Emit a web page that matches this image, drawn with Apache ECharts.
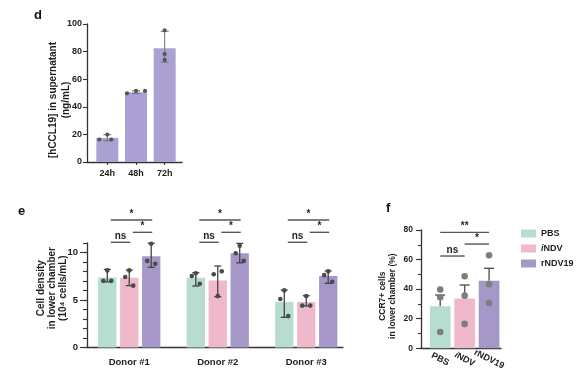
<!DOCTYPE html>
<html><head><meta charset="utf-8">
<script src="https://cdn.jsdelivr.net/npm/echarts@6/dist/echarts.min.js"></script>
<style>html,body{margin:0;padding:0;background:#fff}#c{width:580px;height:383px}</style>
</head><body><div id="c"></div>
<script>
// ---------- DATA ----------
// Panel d
const dCategories = ['24h', '48h', '72h'];
const dMeans = [17.5, 50.5, 82.5];
const dErrLow = [15.4, 49.6, 72.3];
const dErrHigh = [19.8, 51.6, 94.7];
const dPoints = [[16.3, 19.9, 16.3], [49.8, 51.5, 51.5], [95.4, 78.2, 74.0]];
const dYMax = 100, dYInterval = 20;

// Panel e
const eCategories = ['Donor #1', 'Donor #2', 'Donor #3'];
const groupNames = ['PBS', 'iNDV', 'rNDV19'];
const eMeansPBS = [7.35, 7.33, 4.8];
const eMeansINDV = [7.33, 7.05, 4.78];
const eMeansRNDV = [9.6, 9.9, 7.52];
const eLowPBS = [6.9, 6.46, 3.17];
const eHighPBS = [8.2, 7.86, 6.04];
const eLowINDV = [6.5, 5.34, 4.36];
const eHighINDV = [8.13, 8.56, 5.44];
const eLowRNDV = [8.42, 8.9, 6.74];
const eHighRNDV = [10.94, 10.94, 8.04];
const ePointsPBS = [[8.1, 7.0, 7.0], [7.8, 7.5, 6.7], [6.0, 5.1, 3.3]];
const ePointsINDV = [[8.1, 7.4, 6.5], [5.4, 7.7, 8.0], [5.4, 4.4, 4.4]];
const ePointsRNDV = [[10.9, 9.1, 8.8], [10.7, 9.9, 9.1], [8.0, 7.6, 6.9]];
const eYMax = 11, eYInterval = 5;
const eComparisons = [[0, 2, '*'], [1, 2, '*'], [0, 1, 'ns']];

// Panel f
const fCategories = ['PBS', 'iNDV', 'rNDV19'];
const fMeans = [28.4, 33.6, 45.6];
const fSemHigh = [36.0, 42.8, 54.1];
const fPoints = [[39.7, 34.5, 11.0], [48.7, 35.6, 16.5], [62.9, 43.3, 30.6]];
const fYMax = 80, fYInterval = 20;
const fComparisons = [[0, 2, '**'], [1, 2, '*'], [0, 1, 'ns']];

// ---------- LAYOUT / STYLE ----------
const FONT = 'Liberation Sans, Arial, Helvetica, sans-serif';
const TXT = '#1e1e1e';
const AX = '#333';
const colors = ['#b7dcd1', '#f0b8cb', '#a598c9'];
const dColor = '#aba2d3';
const eBarW = 18.3, eGap = 3.66;
const eOffsets = [-(eBarW + eGap), 0, eBarW + eGap];
const eBracketLevels = [13.4, 12.1, 11.05];
const fBracketLevels = [78.4, 70.5, 62.4];
const dJitter = [[-8, 0, 4], [-9, 0, 9], [0, 0, 0]];
const eJitter = [0, -4, 4];

const chart = echarts.init(document.getElementById('c'), null, {renderer: 'canvas'});

function lineEl(x1, y1, x2, y2, color, w) {
  return {type: 'line', shape: {x1, y1, x2, y2}, style: {stroke: color, lineWidth: w}};
}
function errRender(getOffset, capW, color, w, upOnly) {
  return function (params, api) {
    const c = api.value(0);
    const lo = api.coord([c, api.value(1)]);
    const hi = api.coord([c, api.value(2)]);
    const x = lo[0] + getOffset(params);
    const ch = [lineEl(x, lo[1], x, hi[1], color, w), lineEl(x - capW / 2, hi[1], x + capW / 2, hi[1], color, w)];
    if (!upOnly) ch.push(lineEl(x - capW / 2, lo[1], x + capW / 2, lo[1], color, w));
    return {type: 'group', children: ch};
  };
}
function dotRender(getOffset, r, color) {
  return function (params, api) {
    const p = api.coord([api.value(0), api.value(1)]);
    return {type: 'circle', shape: {cx: p[0] + getOffset(params, api), cy: p[1], r}, style: {fill: color}};
  };
}
function bracketRender(list, getX, color) {
  return function (params, api) {
    const b = list[params.dataIndex];
    const p = api.coord([b.group, b.level]);
    const x1 = p[0] + getX(b.from, true), x2 = p[0] + getX(b.to, false);
    return {type: 'group', children: [
      lineEl(x1, p[1], x2, p[1], color, 1.4),
      {type: 'text', x: (x1 + x2) / 2, y: p[1] - 1, style: {text: b.label, align: 'center', verticalAlign: 'bottom', fontSize: 10, fontWeight: 'bold', fontFamily: FONT, fill: TXT}}
    ]};
  };
}

const series = [];
// ---- d ----
series.push({type: 'bar', xAxisIndex: 1, yAxisIndex: 1, data: dMeans, barWidth: 22, itemStyle: {color: dColor}, z: 2});
series.push({type: 'custom', xAxisIndex: 1, yAxisIndex: 1, z: 3,
  data: dCategories.map((c, i) => [i, dErrLow[i], dErrHigh[i]]),
  renderItem: errRender(() => 0, 8, '#7a7a7a', 1.1, false)});
const dDots = [];
dPoints.forEach((arr, i) => arr.forEach((v, j) => dDots.push([i, v, j])));
series.push({type: 'custom', xAxisIndex: 1, yAxisIndex: 1, z: 4, data: dDots,
  renderItem: dotRender((p, api) => dJitter[api.value(0)][api.value(2)], 2.1, '#555')});

// ---- e ----
const eMeans = [eMeansPBS, eMeansINDV, eMeansRNDV];
const eLows = [eLowPBS, eLowINDV, eLowRNDV];
const eHighs = [eHighPBS, eHighINDV, eHighRNDV];
const ePts = [ePointsPBS, ePointsINDV, ePointsRNDV];
for (let s = 0; s < 3; s++) {
  series.push({type: 'bar', name: groupNames[s], xAxisIndex: 3, yAxisIndex: 3, data: eMeans[s],
    barWidth: eBarW, barGap: (eGap / eBarW * 100) + '%', itemStyle: {color: colors[s]}, z: 2});
}
for (let s = 0; s < 3; s++) {
  series.push({type: 'custom', xAxisIndex: 3, yAxisIndex: 3, z: 3,
    data: eCategories.map((c, i) => [i, eLows[s][i], eHighs[s][i]]),
    renderItem: errRender(() => eOffsets[s], 7, '#444', 1.3, false)});
  const pts = [];
  ePts[s].forEach((arr, i) => arr.forEach((v, j) => pts.push([i, v, j])));
  series.push({type: 'custom', xAxisIndex: 3, yAxisIndex: 3, z: 4, data: pts,
    renderItem: dotRender((p, api) => eOffsets[s] + eJitter[api.value(2)], 2.3, '#4a4a4a')});
}
const eBr = [];
eCategories.forEach((c, g) => eComparisons.forEach((cmp, k) => eBr.push({group: g, from: cmp[0], to: cmp[1], label: cmp[2], level: eBracketLevels[k]})));
series.push({type: 'custom', xAxisIndex: 3, yAxisIndex: 3, z: 5, clip: false,
  data: eBr.map(b => [b.group, b.level]),
  renderItem: bracketRender(eBr, (idx, left) => eOffsets[idx] + (left ? 3.5 : 1), '#555')});

// ---- f ----
series.push({type: 'bar', name: 'fbars', xAxisIndex: 5, yAxisIndex: 5, barWidth: 20.7, z: 2,
  data: fMeans.map((v, i) => ({value: v, itemStyle: {color: colors[i]}}))});
series.push({type: 'custom', xAxisIndex: 5, yAxisIndex: 5, z: 3,
  data: fCategories.map((c, i) => [i, fMeans[i], fSemHigh[i]]),
  renderItem: errRender(() => 0, 10, '#555', 1.4, true)});
const fDots = [];
fPoints.forEach((arr, i) => arr.forEach((v, j) => fDots.push([i, v, j])));
series.push({type: 'custom', xAxisIndex: 5, yAxisIndex: 5, z: 4, data: fDots,
  renderItem: dotRender(() => 0, 3.3, '#7d7d7d')});
const fBr = fComparisons.map((cmp, k) => ({group: 0, from: cmp[0], to: cmp[1], label: cmp[2], level: fBracketLevels[k]}));
series.push({type: 'custom', xAxisIndex: 5, yAxisIndex: 5, z: 5, clip: false,
  data: fBr.map(b => [0, b.level]),
  renderItem: bracketRender(fBr, (idx) => idx * 24.43, '#555')});

const lblStyle = (size) => ({fontSize: size, fontWeight: 'bold', fontFamily: FONT, color: TXT});
const frameX = (grid, off) => ({type: 'value', gridIndex: grid, min: 0, max: 1, offset: off,
  axisLine: {show: true, lineStyle: {color: AX, width: 1.3}}, axisTick: {show: false}, axisLabel: {show: false}, splitLine: {show: false}});
const richI = {it: {fontStyle: 'italic', fontSize: 9, fontWeight: 'bold', fontFamily: FONT, color: TXT}, n: {fontSize: 9, fontWeight: 'bold', fontFamily: FONT, color: TXT}};
const fmtI = v => v.charAt(0) === 'i' ? '{it|i}{n|' + v.slice(1) + '}' : '{n|' + v + '}';
const titleStyle = {fontSize: 13, fontWeight: 'bold', fontFamily: FONT, color: '#111'};

const option = {
  animation: false,
  backgroundColor: '#fff',
  title: [
    {text: 'd', left: 34, top: 9, padding: 0, textStyle: titleStyle},
    {text: 'e', left: 18, top: 205, padding: 0, textStyle: titleStyle},
    {text: 'f', left: 386, top: 202, padding: 0, textStyle: titleStyle}
  ],
  legend: {
    data: groupNames, orient: 'vertical', left: 521, top: 229, padding: 0, itemWidth: 15, itemHeight: 8, itemGap: 6,
    icon: 'rect', selectedMode: false, formatter: fmtI,
    textStyle: {fontSize: 9, fontWeight: 'bold', fontFamily: FONT, color: TXT, rich: richI}
  },
  grid: [
    {left: 87, top: 24, width: 95, height: 138},
    {left: 93, top: 24, width: 86, height: 138},
    {left: 87, top: 242.8, width: 256, height: 104.7},
    {left: 85, top: 242.8, width: 265.5, height: 104.7},
    {left: 421, top: 230, width: 80, height: 118.3},
    {left: 428, top: 230, width: 73.3, height: 118.3}
  ],
  xAxis: [
    frameX(0, 0),
    {type: 'category', gridIndex: 1, data: dCategories, axisLine: {show: false},
      axisTick: {show: true, alignWithLabel: true, length: 3, lineStyle: {color: AX, width: 1.1}},
      axisLabel: Object.assign({margin: 7, interval: 0}, lblStyle(9))},
    frameX(2, 2),
    {type: 'category', gridIndex: 3, data: eCategories, axisLine: {show: false}, axisTick: {show: false},
      axisLabel: Object.assign({margin: 10, interval: 0}, lblStyle(9.5))},
    frameX(4, 1),
    {type: 'category', gridIndex: 5, data: fCategories, axisLine: {show: false},
      axisTick: {show: false},
      axisLabel: {margin: 11, rotate: -27, align: 'center', interval: 0, hideOverlap: false, formatter: fmtI, rich: richI, fontSize: 9, fontWeight: 'bold', fontFamily: FONT, color: TXT}}
  ],
  yAxis: [
    {type: 'value', gridIndex: 0, min: 0, max: dYMax, show: false},
    {type: 'value', gridIndex: 1, min: 0, max: dYMax, interval: dYInterval, offset: 6,
      axisLine: {show: true, lineStyle: {color: AX, width: 1.3}},
      axisTick: {show: true, length: 4, lineStyle: {color: AX, width: 1.1}},
      axisLabel: Object.assign({margin: 5}, lblStyle(9)), splitLine: {show: false},
      name: '[hCCL19] in supernatant\n(ng/mL)', nameLocation: 'middle', nameGap: 14, nameMoveOverlap: false,
      nameTextStyle: {fontSize: 10, fontWeight: 'bold', fontFamily: FONT, color: TXT, lineHeight: 13, padding: [0, 14, 0, 0]}},
    {type: 'value', gridIndex: 2, min: 0, max: eYMax, interval: eYInterval,
      axisLine: {show: true, lineStyle: {color: AX, width: 1.3}},
      axisTick: {show: true, length: 7, lineStyle: {color: AX, width: 1.1}},
      axisLabel: Object.assign({margin: 9, showMaxLabel: false}, lblStyle(9.5)), splitLine: {show: false},
      name: 'Cell density\nin lower chamber\n(10⁴ cells/mL)', nameLocation: 'middle', nameGap: 18, nameMoveOverlap: false,
      nameTextStyle: {fontSize: 10, fontWeight: 'bold', fontFamily: FONT, color: TXT, lineHeight: 11, padding: [0, 0, 0, 14]}},
    {type: 'value', gridIndex: 3, min: 0, max: eYMax, interval: 1, offset: -2,
      axisLine: {show: false},
      axisTick: {show: true, length: 4, lineStyle: {color: AX, width: 1.1}},
      axisLabel: {show: false}, splitLine: {show: false}},
    {type: 'value', gridIndex: 4, min: 0, max: fYMax, interval: 10,
      axisLine: {show: true, lineStyle: {color: AX, width: 1.3}},
      axisTick: {show: true, length: 3, lineStyle: {color: AX, width: 1.1}},
      axisLabel: {show: false}, splitLine: {show: false}},
    {type: 'value', gridIndex: 5, min: 0, max: fYMax, interval: fYInterval, offset: 7,
      axisLine: {show: false},
      axisTick: {show: true, length: 5, lineStyle: {color: AX, width: 1.1}},
      axisLabel: Object.assign({margin: 8}, lblStyle(8.5)), splitLine: {show: false},
      name: 'CCR7+ cells\nin lower chamber (%)', nameLocation: 'middle', nameGap: 23, nameMoveOverlap: false,
      nameTextStyle: {fontSize: 8.5, fontWeight: 'bold', fontFamily: FONT, color: TXT, lineHeight: 10, padding: [0, 14, 0, 0]}}
  ],
  series: series
};
chart.setOption(option);
</script></body></html>
